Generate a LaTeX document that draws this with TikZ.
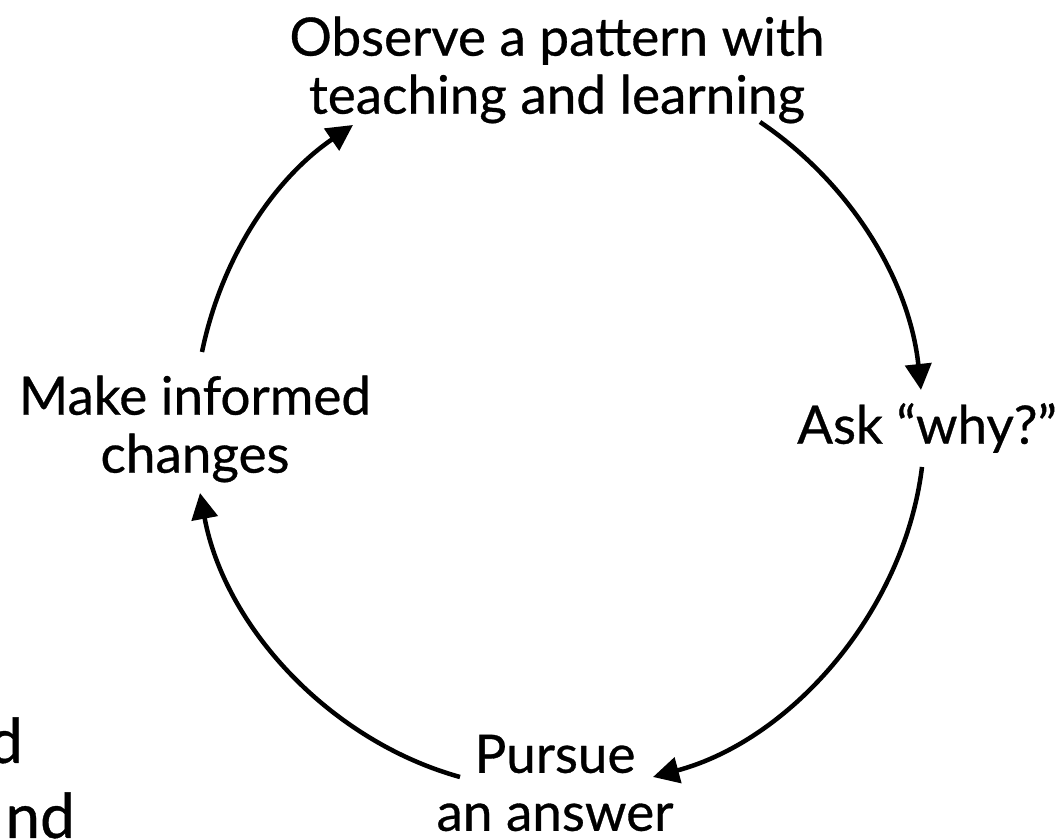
\documentclass[tikz,border=0pt]{standalone}
\usepackage{fontspec}
\setmainfont{Lato}[FakeBold=0.6]
\usetikzlibrary{arrows.meta,positioning}

\begin{document}
\begin{tikzpicture}[
    x=1pt, y=1pt,
    lbl/.style={font=\fontsize{53}{58}\selectfont, align=center, inner sep=0pt},
    cut/.style={font=\fontsize{62}{66}\selectfont, inner sep=0pt, anchor=base east},
    cyc/.style={-{Triangle[length=26pt,width=26pt]}, line width=4.5pt, bend left, looseness=0.9}
]
    \useasboundingbox (0,0) rectangle (1063,840);

    % steps of the cycle
    \node[lbl] (obs) at (557,770) {Observe a pattern with\\teaching and learning};
    \node[lbl] (ask) at (927,412) {Ask \textquotedblleft why?\textquotedblright};
    \node[lbl] (pur) at (555,57) {Pursue\\an answer};
    \node[lbl] (mak) at (195,411) {Make informed\\changes};

    % cut-off text at the left edge
    \node[cut] (cutA) at (23,77) {d};
    \node[cut] (cutB) at (75,2) {nd};

    % ends of the arcs
    \coordinate (obsR) at (760,718);
    \coordinate (askT) at (921,450);
    \coordinate (askB) at (922,373);
    \coordinate (purR) at (653,63);
    \coordinate (purL) at (460,63);
    \coordinate (makB) at (200,347);
    \coordinate (makT) at (202,488);
    \coordinate (obsL) at (353,715);

    \draw[cyc, bend left=25] (obsR) to (askT);
    \draw[cyc, bend left=34] (askB) to (purR);
    \draw[cyc, bend left=32] (purL) to (makB);
    \draw[cyc, bend left=22] (makT) to (obsL);
\end{tikzpicture}
\end{document}
